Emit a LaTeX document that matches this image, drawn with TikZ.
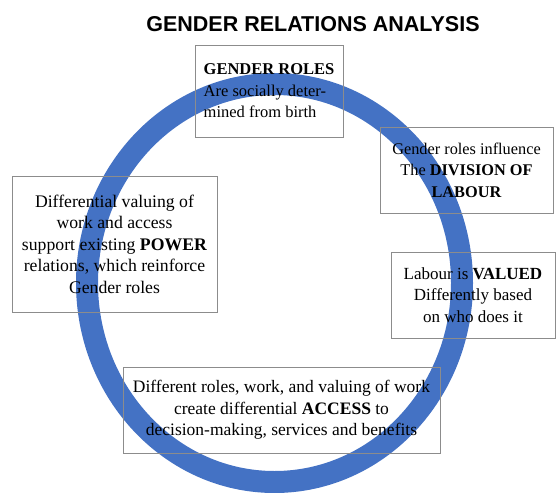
\documentclass[tikz,border=0pt]{standalone}
\usepackage{fontspec}
\setmainfont{Liberation Serif}
\newfontfamily\titlefont{Liberation Sans}
\usepackage{xcolor}
\definecolor{ringblue}{RGB}{68,114,196}
\definecolor{boxgray}{RGB}{140,140,140}

\begin{document}
\begin{tikzpicture}[x=1pt,y=-1pt,
  box/.style={draw=boxgray, line width=0.8pt, inner xsep=8pt, inner ysep=0pt,
    align=center, font=\fontsize{#1}{21.5}\selectfont}]
\useasboundingbox (0,0) rectangle (556,492);
% the ring
\fill[ringblue, even odd rule] (274.5,283) ellipse (198.5 and 210)
  (274.5,283) ellipse (176.5 and 188);
\node[font=\titlefont\bfseries\fontsize{21.5}{24}\selectfont] (title) at (313,24.5) {GENDER RELATIONS ANALYSIS};
% the boxes
\node[box=16.5, align=left, minimum width=148pt, minimum height=92pt] (roles) at (269,91)
  {\textbf{GENDER ROLES}\\Are socially deter-\\mined from birth};
\node[box=16.3, minimum width=173pt, minimum height=86pt] (division) at (466.5,170)
  {Gender roles influence\\The \textbf{DIVISION OF}\\\textbf{LABOUR}};
\node[box=17, minimum width=164pt, minimum height=86pt] (valued) at (473,295)
  {Labour is \textbf{VALUED}\\Differently based\\on who does it};
\node[box=17.7, minimum width=205pt, minimum height=136pt] (power) at (114.5,244)
  {Differential valuing of\\work and access\\support existing \textbf{POWER}\\relations, which reinforce\\Gender roles};
\node[box=17.5, minimum width=317pt, minimum height=86pt] (access) at (281.5,410)
  {Different roles, work, and valuing of work\\create differential \textbf{ACCESS} to\\decision-making, services and benefits};
\end{tikzpicture}
\end{document}
